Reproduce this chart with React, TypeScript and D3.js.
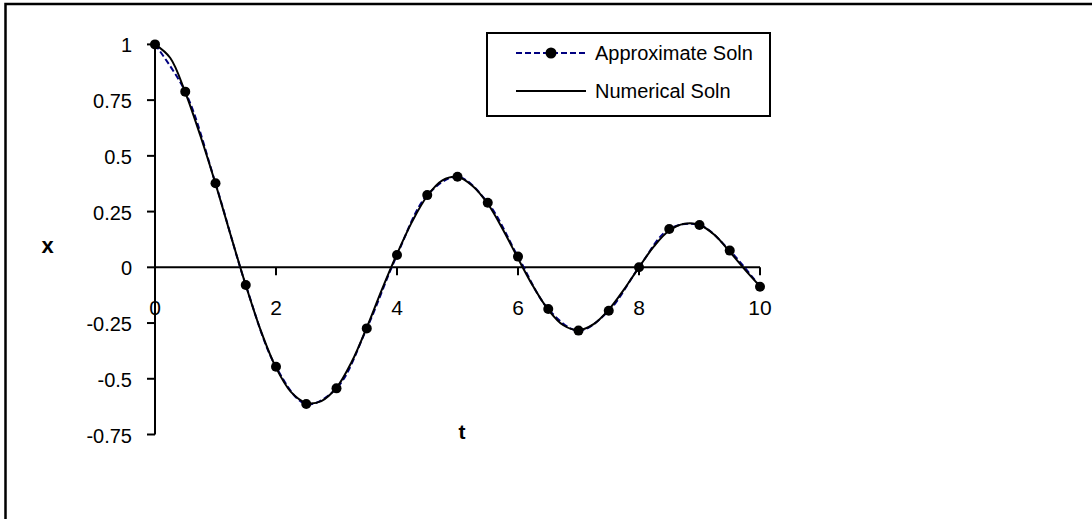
import React from "react";
import * as d3 from "d3";

const tApprox = [0, 0.5, 1, 1.5, 2, 2.5, 3, 3.5, 4, 4.5, 5, 5.5, 6, 6.5, 7, 7.5, 8, 8.5, 9, 9.5, 10];
const xApprox = [1.0, 0.788, 0.377, -0.079, -0.446, -0.613, -0.543, -0.274, 0.055, 0.324, 0.406, 0.29, 0.048, -0.187, -0.284, -0.195, 0.0, 0.172, 0.19, 0.075, -0.087];

const tNum = [0, 0.25, 0.5, 0.75, 1, 1.25, 1.5, 1.75, 2, 2.25, 2.5, 2.75, 3, 3.25, 3.5, 3.75, 4, 4.25, 4.5, 4.75, 5, 5.25, 5.5, 5.75, 6, 6.25, 6.5, 6.75, 7, 7.25, 7.5, 7.75, 8, 8.25, 8.5, 8.75, 9, 9.25, 9.5, 9.75, 10];
const xNum = [1.0, 0.94, 0.785, 0.59, 0.375, 0.145, -0.08, -0.285, -0.45, -0.56, -0.608, -0.6, -0.54, -0.425, -0.27, -0.1, 0.06, 0.205, 0.32, 0.39, 0.405, 0.365, 0.285, 0.17, 0.04, -0.085, -0.19, -0.26, -0.282, -0.255, -0.19, -0.1, 0.0, 0.095, 0.165, 0.195, 0.19, 0.145, 0.07, -0.01, -0.085];

const xTicks = [0, 2, 4, 6, 8, 10];
const yTicks = [1, 0.75, 0.5, 0.25, 0, -0.25, -0.5, -0.75];
const seriesNames = ["Approximate Soln", "Numerical Soln"];

const W = 1092;
const H = 519;
const FONT = "'Liberation Sans', Arial, sans-serif";

export default function App() {
  const x = d3.scaleLinear().domain([0, 10]).range([155, 760]);
  const y = d3.scaleLinear().domain([-0.75, 1]).range([434.5, 44.4]);

  const approxPts: [number, number][] = tApprox.map((t, i) => [x(t), y(xApprox[i])]);
  const numPts: [number, number][] = tNum.map((t, i) => [x(t), y(xNum[i])]);
  const line = d3.line().curve(d3.curveCatmullRom.alpha(0.5));

  const fmt = (v: number) => (v === 0 ? "0" : String(v));

  return (
    <div style={{ position: "absolute", left: 0, top: 0 }}>
      <svg width={W} height={H} style={{ display: "block", background: "#fff" }} fontFamily={FONT}>
        <rect x={0} y={0} width={W} height={H} fill="#fff" />
        <path d={`M5.5,${H + 10} L5.5,4 L${W + 10},4`} fill="none" stroke="#000" strokeWidth={2.5} />

        {/* y axis */}
        <line x1={x(0)} x2={x(0)} y1={y(1)} y2={y(-0.75)} stroke="#000" strokeWidth={2} />
        {yTicks.map((v) => (
          <g key={"y" + v}>
            <line x1={x(0) - 8} x2={x(0)} y1={y(v)} y2={y(v)} stroke="#000" strokeWidth={2} />
            <text x={132} y={y(v) + 1} dy="0.35em" textAnchor="end" fontSize={20}>
              {fmt(v)}
            </text>
          </g>
        ))}

        {/* x axis */}
        <line x1={x(0)} x2={x(10)} y1={y(0)} y2={y(0)} stroke="#000" strokeWidth={2} />
        {xTicks.map((v) => (
          <g key={"x" + v}>
            <line x1={x(v)} x2={x(v)} y1={y(0)} y2={y(0) + 8} stroke="#000" strokeWidth={2} />
            <text x={x(v)} y={315} textAnchor="middle" fontSize={21}>
              {v}
            </text>
          </g>
        ))}

        <text x={462} y={432} textAnchor="middle" fontSize={21} fontWeight="bold" dy="0.35em">t</text>
        <text x={47.5} y={246} textAnchor="middle" fontSize={22} fontWeight="bold" dy="0.3em">x</text>

        {/* series */}
        <path d={line(approxPts) || ""} fill="none" stroke="#000080" strokeWidth={2} strokeDasharray="6,3" />
        <path d={line(numPts) || ""} fill="none" stroke="#000" strokeWidth={2} />
        {approxPts.map((p, i) => (
          <circle key={"c" + i} cx={p[0]} cy={p[1]} r={5} fill="#000" />
        ))}

        {/* legend */}
        <rect x={487} y={33} width={283} height={83} fill="#fff" stroke="#000" strokeWidth={2} />
        <line x1={516} x2={586} y1={53} y2={53} stroke="#000080" strokeWidth={2} strokeDasharray="6,3" />
        <circle cx={551} cy={53} r={5.5} fill="#000" />
        <text x={595} y={53} dy="0.35em" fontSize={20}>{seriesNames[0]}</text>
        <line x1={516} x2={586} y1={91} y2={91} stroke="#000" strokeWidth={2} />
        <text x={595} y={91} dy="0.35em" fontSize={20}>{seriesNames[1]}</text>
      </svg>
    </div>
  );
}
